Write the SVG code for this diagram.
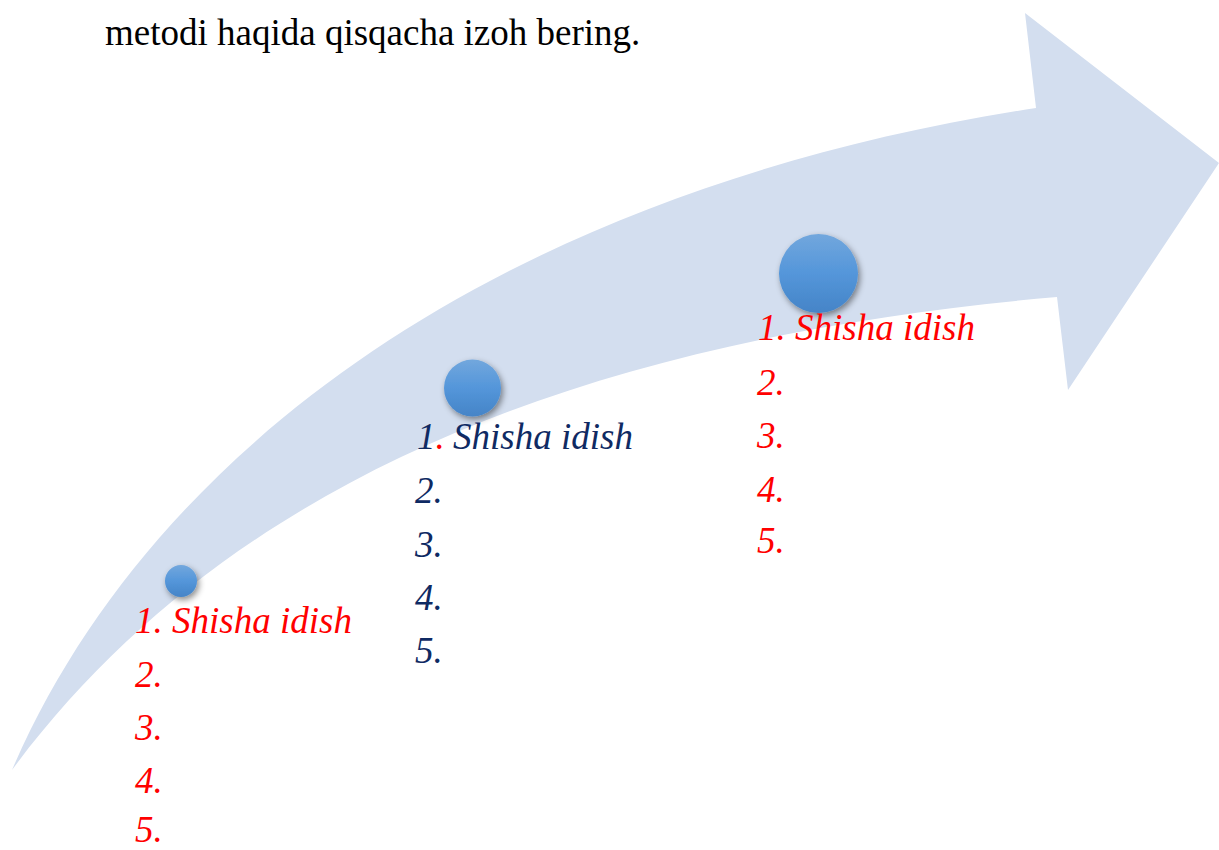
<svg xmlns="http://www.w3.org/2000/svg" width="1219" height="850" viewBox="0 0 1219 850">
<style>
.t{font-family:"Liberation Serif","Times New Roman",serif;font-size:37px}
.li{font-family:"Liberation Serif","Times New Roman",serif;font-size:37px;font-style:italic}
.red{fill:#ff0000}
.navy{fill:#0f2a63}
.dot{fill:url(#g);filter:url(#sh)}
</style>
<defs>
<linearGradient id="g" x1="0" y1="0" x2="0" y2="1">
<stop offset="0" stop-color="#72a7dd"/>
<stop offset="0.5" stop-color="#5496da"/>
<stop offset="1" stop-color="#4584c7"/>
</linearGradient>
<filter id="sh" x="-50%" y="-50%" width="200%" height="200%">
<feDropShadow dx="2" dy="3" stdDeviation="3" flood-color="#000" flood-opacity="0.45"/>
</filter>
</defs>
<rect width="1219" height="850" fill="#ffffff"/>
<path id="arrow" d="M12,770 C150,450 500,190 1036,108 L1025,13 L1219,163 L1068,390 L1057,297 C565,340 220,490 12,770 Z" fill="#d3deef"/>
<text class="t" x="105" y="45" fill="#000">metodi haqida qisqacha izoh bering.</text>
<g id="node1">
<circle class="dot" cx="181" cy="581" r="16"/>
<g class="li red">
<text x="135" y="633">1.</text><text x="172" y="633">Shisha idish</text>
<text x="135" y="687">2.</text>
<text x="135" y="740">3.</text>
<text x="135" y="793">4.</text>
<text x="135" y="842">5.</text>
</g>
</g>
<g id="node2">
<circle class="dot" cx="472.5" cy="388" r="28.5"/>
<g class="li navy">
<text x="417" y="449">1<tspan class="red">.</tspan></text><text x="453" y="449">Shisha idish</text>
<text x="415" y="503">2.</text>
<text x="415" y="557">3.</text>
<text x="415" y="610">4.</text>
<text x="415" y="663">5.</text>
</g>
</g>
<g id="node3">
<circle class="dot" cx="818.5" cy="273.5" r="39.5"/>
<g class="li red">
<text x="758" y="340">1.</text><text x="795" y="340">Shisha idish</text>
<text x="757" y="395">2.</text>
<text x="757" y="448">3.</text>
<text x="757" y="502">4.</text>
<text x="757" y="553">5.</text>
</g>
</g>
<g id="connectors"></g>
</svg>
